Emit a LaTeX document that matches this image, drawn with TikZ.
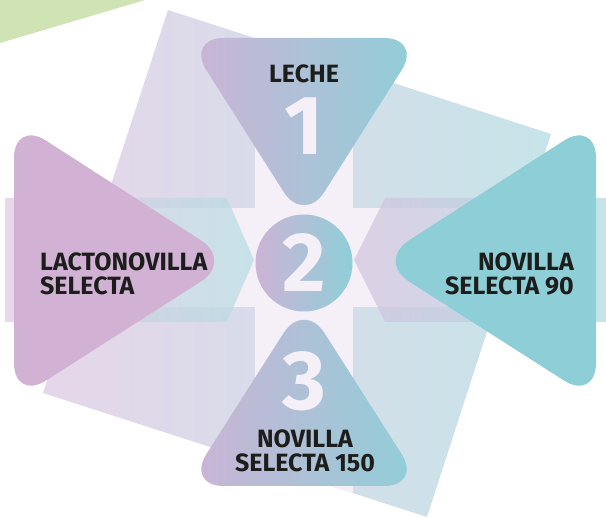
\documentclass[tikz,border=0pt]{standalone}
\usepackage{fontspec}
\setmainfont{Fira Sans}

\definecolor{lila}{HTML}{CDB3D6}
\definecolor{turq}{HTML}{8ECFD7}
\definecolor{lilaTri}{HTML}{D1B2D5}
\definecolor{turqTri}{HTML}{8DCED7}
\definecolor{cruz}{HTML}{F5F0F8}
\definecolor{verde}{HTML}{CFE3B5}
\definecolor{cuadIzq}{HTML}{E6D6EA}
\definecolor{cuadDer}{HTML}{C6E4E9}
\definecolor{flechaIzq}{HTML}{DEC7E1}
\definecolor{flechaMed}{HTML}{B5DDE3}
\definecolor{flechaLila}{HTML}{D3C2DE}
\definecolor{flechaDer}{HTML}{ACDAE1}
\definecolor{texto}{HTML}{1D1D1B}

\begin{document}
\begin{tikzpicture}[
  x=1pt, y=-1pt,
  tri/.style={rounded corners=38pt},
  degradado/.style={left color=lila, right color=turq},
  flecha/.style={fill opacity=0.7},
  etiqueta/.style={inner sep=0pt, text=texto, font=\fontsize{25}{24}\selectfont\bfseries},
  cifra/.style={inner sep=0pt, text=cruz, font=\fontsize{84}{84}\selectfont\bfseries}
]
\useasboundingbox (0,0) rectangle (606,518);

% fondo: triangulo verde y cuadrado girado
\fill[verde] (0,0) -- (145,0) -- (0,43) -- cycle;
\shade[left color=cuadIzq, right color=cuadDer]
  (168,10) -- (551,134) -- (427,517) -- (43,393) -- cycle;
\begin{scope}
  \clip (168,10) -- (551,134) -- (427,517) -- (43,393) -- cycle;
  \fill[cruz] (255,0) rectangle (353,518);
  \fill[cruz] (0,208) rectangle (606,307);
\end{scope}

% bandas horizontales
\shade[flecha, left color=flechaIzq, right color=flechaMed]
  (5,198) -- (227,198) -- (254,260) -- (227,322) -- (5,322) -- cycle;
\shade[flecha, left color=flechaLila, right color=flechaDer]
  (606,198) -- (385,198) -- (354,260) -- (385,322) -- (606,322) -- cycle;

% triangulos redondeados
\shade[tri, degradado] (186,38) -- (422,38) -- (304,224) -- cycle;
\shade[tri, degradado] (186,486) -- (422,486) -- (304,301) -- cycle;
\fill[tri, lilaTri] (14,120) -- (233,261) -- (14,401) -- cycle;
\fill[tri, turqTri] (596,120) -- (377,261) -- (596,401) -- cycle;

% circulo central y cifras
\node[circle, minimum size=97pt, inner sep=0pt, degradado] (paso2) at (304,263) {};
\node[cifra] (dos) at (paso2.center) {2};
\node[cifra] (uno) at (304,126) {1};
\node[cifra] (tres) at (304,381) {3};

% etiquetas
\node[etiqueta] (leche) at (304,74) {LECHE};
\node[etiqueta, anchor=west, align=left] (lacto) at (40,274) {LACTONOVILLA\\SELECTA};
\node[etiqueta, anchor=east, align=right] (nov90) at (574,274) {NOVILLA\\SELECTA 90};
\node[etiqueta, align=center] (nov150) at (305,451) {NOVILLA\\SELECTA 150};
\end{tikzpicture}
\end{document}
